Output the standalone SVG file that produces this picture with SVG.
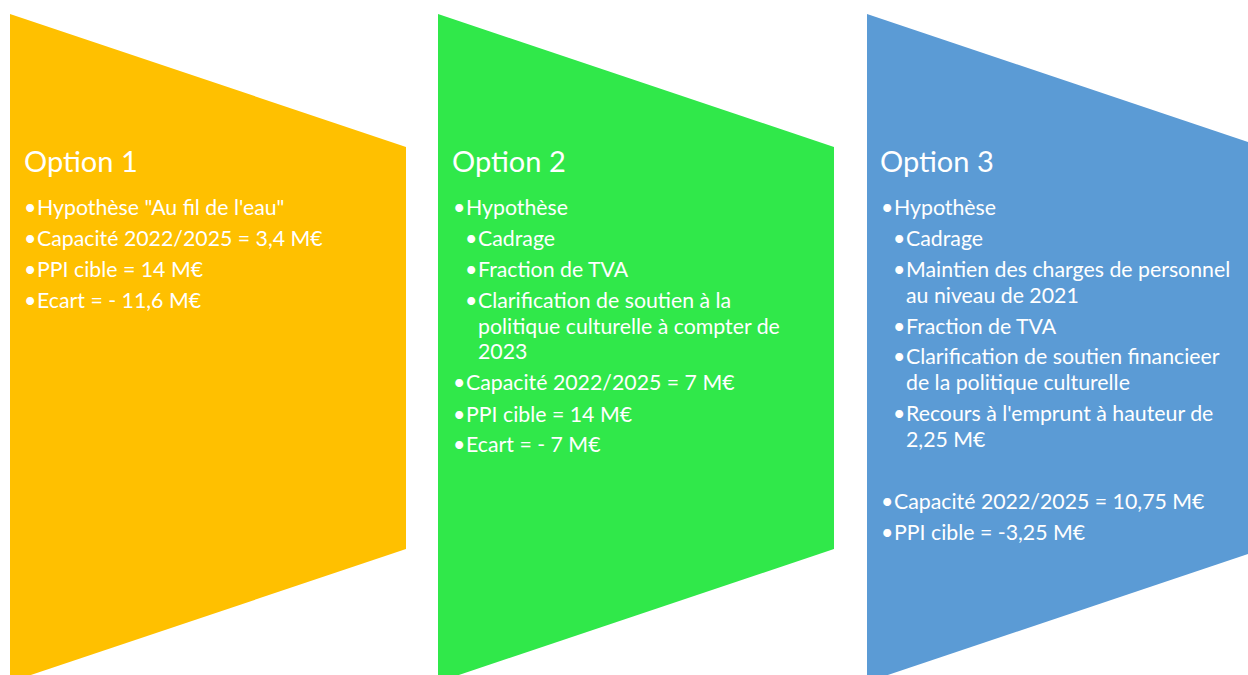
<svg xmlns="http://www.w3.org/2000/svg" width="1248" height="675" viewBox="0 0 1248 675">
<style>
text{font-family:Lato,"Open Sans",sans-serif;fill:#ffffff;font-size:21.3px}
.t{font-size:29px}
</style>
<rect width="1248" height="675" fill="#ffffff"/>
<g id="option1">
<polygon points="10,14 406,147 406,549 10,682" fill="#FFC000"/>
<text class="t" x="24" y="172">Option 1</text>
<text x="24" y="215">•</text><text x="37" y="215">Hypothèse "Au fil de l'eau"</text>
<text x="24" y="246">•</text><text x="37" y="246">Capacité 2022/2025 = 3,4 M€</text>
<text x="24" y="277">•</text><text x="37" y="277">PPI cible = 14 M€</text>
<text x="24" y="308">•</text><text x="37" y="308">Ecart = - 11,6 M€</text>
</g>
<g id="option2">
<polygon points="438,14 834,147 834,549 438,682" fill="#30E84A"/>
<text class="t" x="452" y="172">Option 2</text>
<text x="453" y="215">•</text><text x="466" y="215">Hypothèse</text>
<text x="465" y="246">•</text><text x="478" y="246">Cadrage</text>
<text x="465" y="277">•</text><text x="478" y="277">Fraction de TVA</text>
<text x="465" y="308">•</text><text x="478" y="308">Clarification de soutien à la<tspan x="478" y="334">politique culturelle à compter de</tspan><tspan x="478" y="359">2023</tspan></text>
<text x="453" y="390">•</text><text x="466" y="390">Capacité 2022/2025 = 7 M€</text>
<text x="453" y="422">•</text><text x="466" y="422">PPI cible = 14 M€</text>
<text x="453" y="452">•</text><text x="466" y="452">Ecart = - 7 M€</text>
</g>
<g id="option3">
<polygon points="867,14 1263,147 1263,549 867,682" fill="#5B9BD5"/>
<text class="t" x="880" y="172">Option 3</text>
<text x="881" y="215">•</text><text x="894" y="215">Hypothèse</text>
<text x="893" y="246">•</text><text x="906" y="246">Cadrage</text>
<text x="893" y="277">•</text><text x="906" y="277">Maintien des charges de personnel<tspan x="906" y="303">au niveau de 2021</tspan></text>
<text x="893" y="334">•</text><text x="906" y="334">Fraction de TVA</text>
<text x="893" y="364">•</text><text x="906" y="364">Clarification de soutien financieer<tspan x="906" y="390">de la politique culturelle</tspan></text>
<text x="893" y="421">•</text><text x="906" y="421">Recours à l'emprunt à hauteur de<tspan x="906" y="447">2,25 M€</tspan></text>
<text x="881" y="509">•</text><text x="894" y="509">Capacité 2022/2025 = 10,75 M€</text>
<text x="881" y="540">•</text><text x="894" y="540">PPI cible = -3,25 M€</text>
</g>
<g id="connectors"></g>
</svg>
